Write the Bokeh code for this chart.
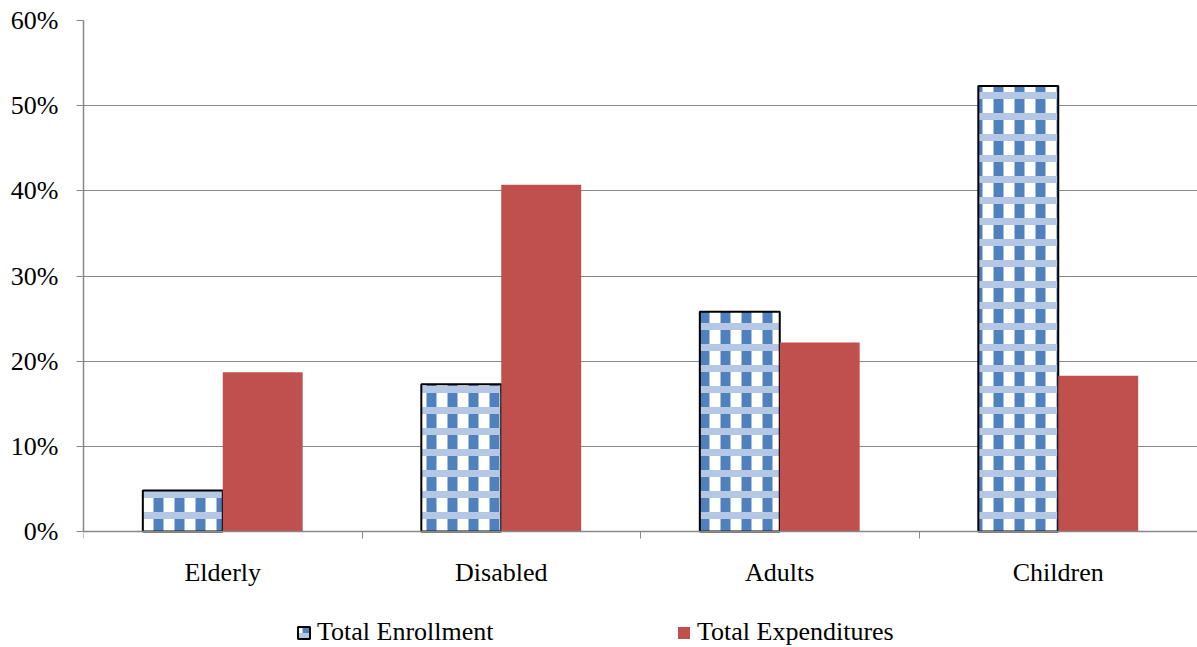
from bokeh.plotting import figure
from bokeh.models import Range1d, FixedTicker, PrintfTickFormatter, Legend, LegendItem, ColumnDataSource
from bokeh.embed import file_html
from bokeh.resources import INLINE

categories = ["Elderly", "Disabled", "Adults", "Children"]
enrollment = [4.8, 17.3, 25.8, 52.3]
expenditures = [18.7, 40.7, 22.2, 18.3]
y_ticks = [0, 10, 20, 30, 40, 50, 60]

FONT = "Liberation Serif"
BAR_W = 0.287
# room below the zero line (in pixels) used for category labels and legend
BOTTOM_PX = 116
PLOT_PX = 511
Y_MIN = -60 * BOTTOM_PX / PLOT_PX

centers = [i + 0.5 for i in range(len(categories))]
src = ColumnDataSource(dict(
    x_enr=[c - BAR_W / 2 for c in centers],
    x_exp=[c + BAR_W / 2 for c in centers],
    enr=enrollment,
    exp=expenditures,
))

p = figure(width=1197, height=647, output_backend="svg", toolbar_location=None,
           x_range=Range1d(0, len(categories)), y_range=Range1d(Y_MIN, 60),
           min_border_left=83, min_border_right=0, min_border_top=20, min_border_bottom=0)
p.outline_line_color = None
p.background_fill_color = "white"
p.border_fill_color = "white"

# gridlines
p.xgrid.grid_line_color = None
p.ygrid.grid_line_color = "#888888"
p.ygrid.grid_line_width = 1
p.ygrid.ticker = FixedTicker(ticks=y_ticks)

# enrollment bars (patterned)
r_enr1 = p.vbar(x="x_enr", top="enr", bottom=0, width=BAR_W, source=src, fill_color="white",
                line_color=None, hatch_pattern="vertical_line", hatch_color="#4F81BD",
                hatch_weight=10, hatch_scale=21)
r_enr2 = p.vbar(x="x_enr", top="enr", bottom=0, width=BAR_W, source=src, fill_color=None,
                line_color="black", line_width=2, hatch_pattern="horizontal_line",
                hatch_color="#B4C8E6", hatch_weight=7, hatch_scale=21)
r_exp = p.vbar(x="x_exp", top="exp", bottom=0, width=BAR_W, source=src, fill_color="#C0504D",
               line_color=None)

# axes
xa = p.xaxis[0]
xa.fixed_location = 0
xa.ticker = FixedTicker(ticks=centers, minor_ticks=list(range(len(categories) + 1)))
xa.major_label_overrides = {c: name for c, name in zip(centers, categories)}
xa.major_tick_out = 0
xa.major_tick_in = 0
xa.minor_tick_out = 7
xa.minor_tick_in = 0
xa.minor_tick_line_color = "#888888"
xa.axis_line_color = "#888888"
xa.axis_line_width = 1.5
xa.major_label_standoff = 19
xa.major_label_text_font = FONT
xa.major_label_text_font_size = "26px"
xa.major_label_text_color = "black"

ya = p.yaxis[0]
ya.bounds = (0, 60)
ya.ticker = FixedTicker(ticks=y_ticks)
ya.formatter = PrintfTickFormatter(format="%d%%")
ya.major_tick_out = 7
ya.major_tick_in = 0
ya.minor_tick_out = 0
ya.minor_tick_in = 0
ya.major_tick_line_color = "#888888"
ya.axis_line_color = "#888888"
ya.axis_line_width = 1.5
ya.major_label_standoff = 18
ya.major_label_text_font = FONT
ya.major_label_text_font_size = "26px"
ya.major_label_text_color = "black"

legend = Legend(items=[LegendItem(label="Total Enrollment", renderers=[r_enr1, r_enr2]),
                       LegendItem(label="Total Expenditures", renderers=[r_exp])],
                location="bottom_center", orientation="horizontal",
                glyph_width=15, glyph_height=15, label_height=26, label_width=287,
                label_standoff=6, padding=0, margin=0, spacing=72,
                border_line_color=None, background_fill_alpha=0,
                label_text_font=FONT, label_text_font_size="26px",
                label_text_color="black")
p.add_layout(legend, "center")

open("out.html", "w").write(file_html(p, INLINE))
